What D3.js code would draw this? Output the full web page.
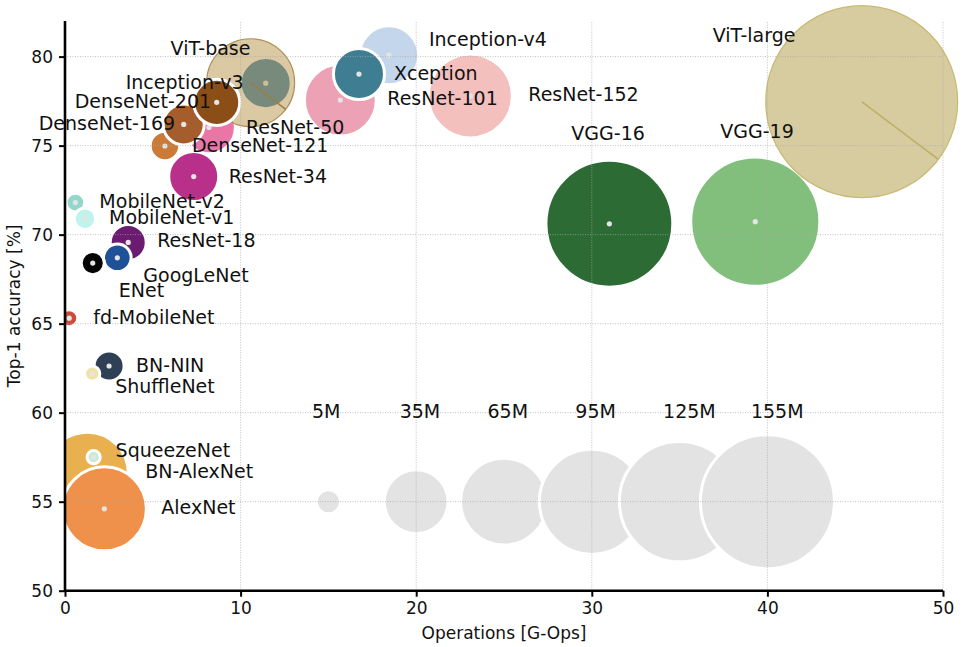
<!DOCTYPE html>
<html>
<head>
<meta charset="utf-8">
<script src="https://cdn.jsdelivr.net/npm/d3@7"></script>
<style>
  html, body { margin: 0; padding: 0; background: #fff; }
  svg { display: block; font-family: "DejaVu Sans", sans-serif; }
</style>
</head>
<body>
<svg id="chart" width="962" height="647"></svg>
<script>
// ---------------- DATA ----------------
const models = ["VGG-19","VGG-16","ResNet-152","ResNet-101","Inception-v4","Xception",
  "ResNet-50","DenseNet-121","DenseNet-169","Inception-v3","ViT-base","DenseNet-201",
  "ResNet-34","ResNet-18","GoogLeNet","MobileNet-v2","MobileNet-v1","ENet","fd-MobileNet",
  "BN-NIN","ShuffleNet","BN-AlexNet","SqueezeNet","AlexNet","ViT-large"];
// operations [G-Ops]
const operations = [39.31, 31.0, 23.08, 15.68, 18.45, 16.74,
  8.20, 5.69, 6.76, 11.43, 10.57, 8.64,
  7.33, 3.60, 2.98, 0.59, 1.14, 1.58, 0.24,
  2.51, 1.55, 1.27, 1.63, 2.24, 45.37];
// top-1 accuracy [%]
const accuracy = [70.73, 70.61, 77.79, 77.56, 80.08, 79.02,
  76.02, 74.98, 76.19, 78.51, 78.53, 77.43,
  73.26, 69.56, 68.70, 71.80, 70.89, 68.40, 65.31,
  62.62, 62.19, 56.60, 57.50, 54.60, 77.47];
// parameters [M]
const parameters = [144, 139, 61, 44.7, 30, 22.5,
  24, 7.5, 14.5, 22.5, 67, 18.3,
  21.6, 11.2, 6.6, 3.0, 4.0, 4.6, 2.5,
  7.8, 2.0, 58, 1.5, 61, 318];

const legendParams = [5, 35, 65, 95, 125, 155];
const legendLabels = ["5M", "35M", "65M", "95M", "125M", "155M"];
const legendOps = [15, 20, 25, 30, 35, 40];
const legendAcc = 55;

const xTicks = [0, 10, 20, 30, 40, 50];
const yTicks = [50, 55, 60, 65, 70, 75, 80];

// ---------------- STYLE / LAYOUT ----------------
const palette = {
  "VGG-19": "#83bf7c", "VGG-16": "#2c6b34", "ResNet-152": "#f3c0be", "ResNet-101": "#eca2b4",
  "Inception-v4": "#c3d6eb", "Xception": "#3f7e92", "ResNet-50": "#ea76a8",
  "DenseNet-121": "#c97b37", "DenseNet-169": "#a55d2d", "Inception-v3": "#3b81b1",
  "ViT-base": "#b59347", "DenseNet-201": "#8a4e16", "ResNet-34": "#b8308a",
  "ResNet-18": "#6b1b70", "GoogLeNet": "#1f5199", "MobileNet-v2": "#93d6cb",
  "MobileNet-v1": "#bff3ec", "ENet": "#050505", "fd-MobileNet": "#c94d3d",
  "BN-NIN": "#2e3f56", "ShuffleNet": "#f1e3a3", "BN-AlexNet": "#e9b050",
  "SqueezeNet": "#c7ead4", "AlexNet": "#ef914b", "ViT-large": "#d6cca0"
};
const vitStyle = {
  "ViT-base": { opacity: 0.5, stroke: "#b0925a", line: "#9c7d3f" },
  "ViT-large": { opacity: 1.0, stroke: "#c7ba72", line: "#bdb062" }
};
// label offsets in pixels from the bubble centre: [dx, dy] (text start, baseline)
const labelOffset = {
  "ViT-base": [-80, -28], "Inception-v3": [-140, 6], "DenseNet-201": [-142, 6],
  "DenseNet-169": [-145, 6], "ResNet-50": [37, 7], "DenseNet-121": [27, 6],
  "ResNet-34": [35, 6], "MobileNet-v2": [24, 5], "MobileNet-v1": [24, 5],
  "ResNet-18": [29, 5], "GoogLeNet": [26, 24], "ENet": [26, 34], "fd-MobileNet": [24, 6],
  "BN-NIN": [27, 6], "ShuffleNet": [23, 19], "SqueezeNet": [22, 0], "BN-AlexNet": [58, 5],
  "AlexNet": [57, 5], "Inception-v4": [40, -9], "Xception": [35, 6], "ResNet-101": [47, 5],
  "ResNet-152": [58, 5], "VGG-16": [-38, -84], "VGG-19": [-35, -84], "ViT-large": [-149, -60]
};

const svg = d3.select("#chart");

const x = d3.scaleLinear().domain([0, 50]).range([65, 943]);
const y = d3.scaleLinear().domain([50, 82]).range([590.7, 21]);
const r = d3.scaleSqrt().domain([0, 155]).range([0, 67]);

svg.append("defs").append("clipPath").attr("id", "clipLeft")
  .append("rect").attr("x", x(0)).attr("y", -200).attr("width", 1200).attr("height", y(50) + 200);

const data = models.map((m, i) => ({ name: m, ops: operations[i], acc: accuracy[i], p: parameters[i] }));
const legend = legendParams.map((p, i) => ({ label: legendLabels[i], ops: legendOps[i], acc: legendAcc, p }));

const marks = svg.append("g").attr("clip-path", "url(#clipLeft)");

// legend bubbles
marks.selectAll("circle.leg").data(legend).join("circle")
  .attr("class", "leg")
  .attr("cx", d => x(d.ops)).attr("cy", d => y(d.acc)).attr("r", d => r(d.p))
  .attr("fill", "#e3e3e3").attr("stroke", "#fff").attr("stroke-width", 3);

// model bubbles in drawing order
data.forEach(d => {
  const cx = x(d.ops), cy = y(d.acc), rr = r(d.p);
  const vit = vitStyle[d.name];
  if (vit) {
    marks.append("circle").attr("cx", cx).attr("cy", cy).attr("r", rr)
      .attr("fill", palette[d.name]).attr("fill-opacity", vit.opacity)
      .attr("stroke", vit.stroke).attr("stroke-width", 1.2);
    const ang = 37 * Math.PI / 180;
    marks.append("line").attr("x1", cx).attr("y1", cy)
      .attr("x2", cx + rr * Math.cos(ang)).attr("y2", cy + rr * Math.sin(ang))
      .attr("stroke", vit.line).attr("stroke-width", 1.5);
  } else {
    marks.append("circle").attr("cx", cx).attr("cy", cy).attr("r", rr)
      .attr("fill", palette[d.name]).attr("stroke", "#fff").attr("stroke-width", 3);
    marks.append("circle").attr("cx", cx).attr("cy", cy).attr("r", 2.6)
      .attr("fill", "#e4e4e4");
  }
});

// grid (drawn above bubbles, as in the reference)
const grid = svg.append("g").attr("stroke", "#a8a8a8").attr("stroke-opacity", 0.7)
  .attr("stroke-width", 1).attr("stroke-dasharray", "1,1.5");
grid.selectAll("line.gx").data(xTicks.filter(t => t > 0)).join("line")
  .attr("x1", d => x(d)).attr("x2", d => x(d)).attr("y1", y(50)).attr("y2", y(82));
grid.selectAll("line.gy").data(yTicks.filter(t => t > 50)).join("line")
  .attr("x1", x(0)).attr("x2", x(50)).attr("y1", d => y(d)).attr("y2", d => y(d));

// axes
const xAxis = d3.axisBottom(x).tickValues(xTicks).tickSize(6).tickPadding(5).tickFormat(d3.format("d"));
const yAxis = d3.axisLeft(y).tickValues(yTicks).tickSize(6).tickPadding(6).tickFormat(d3.format("d"));
const gx = svg.append("g").attr("transform", `translate(0,${y(50)})`).call(xAxis);
const gy = svg.append("g").attr("transform", `translate(${x(0)},0)`).call(yAxis);
[gx, gy].forEach(g => {
  g.select(".domain").attr("stroke", "#000").attr("stroke-width", 2.6);
  g.selectAll(".tick line").attr("stroke", "#000").attr("stroke-width", 2);
  g.selectAll(".tick text").attr("fill", "#111").style("font-size", "17px")
    .style("font-family", "'DejaVu Sans', sans-serif");
});
gx.select(".domain").attr("d", `M${x(0)},0H${x(50)}`);
gy.select(".domain").attr("d", `M0,${y(82)}V${y(50)}`);

// axis titles
svg.append("text").attr("x", (x(0) + x(50)) / 2).attr("y", 638.5)
  .attr("text-anchor", "middle").style("font-size", "17px").attr("fill", "#111")
  .text("Operations [G-Ops]");
svg.append("text").attr("transform", `translate(19.5,${(y(50) + y(82)) / 2}) rotate(-90)`)
  .attr("text-anchor", "middle").style("font-size", "17px").attr("fill", "#111")
  .text("Top-1 accuracy [%]");

// labels
const labels = svg.append("g").style("font-size", "19px").attr("fill", "#111");
labels.selectAll("text.m").data(data).join("text")
  .attr("x", d => x(d.ops) + labelOffset[d.name][0])
  .attr("y", d => y(d.acc) + labelOffset[d.name][1])
  .text(d => d.name);
labels.selectAll("text.l").data(legend).join("text")
  .attr("x", d => x(d.ops) - 16.5)
  .attr("y", d => y(d.acc) - 83.4)
  .text(d => d.label);
</script>
</body>
</html>
